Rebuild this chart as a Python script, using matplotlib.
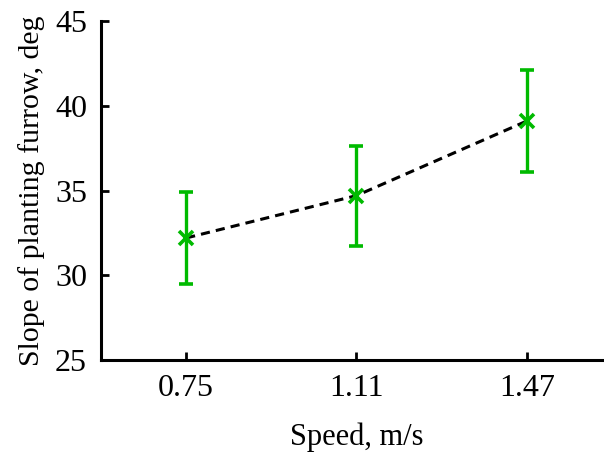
import matplotlib
matplotlib.use("Agg")
import matplotlib.pyplot as plt

OUTPUT_FILE = "out.png"

# Values.
speeds = ["0.75", "1.11", "1.47"]
slope_mean = [32.2, 34.7, 39.1]
slope_err = [2.7, 2.95, 3.0]

plt.rcParams["font.family"] = ["Liberation Serif", "DejaVu Serif"]

GREEN = "#00BA00"

fig = plt.figure(figsize=(6.04, 4.54), dpi=100)
# The x axis runs a little past the right edge of the figure, as in the source.
ax = fig.add_axes([0.1672, 0.207, 0.846, 0.7467])

x_positions = list(range(len(speeds)))

# Dashed trend line joining the means.
ax.plot(x_positions, slope_mean, color="black", linestyle=(0, (3, 2)),
        linewidth=2.2, zorder=2)

ax.errorbar(x_positions, slope_mean, yerr=slope_err, fmt="x", color=GREEN,
            ecolor=GREEN, elinewidth=2.4, capsize=5, capthick=2.4,
            markersize=10, markeredgewidth=2.6, zorder=3)

ax.set_xlim(-0.5, 2.5)
ax.set_ylim(25, 45)
ax.set_yticks(range(25, 46, 5))
ax.set_xticks(x_positions)
ax.set_xticklabels(speeds)

ax.set_xlabel("Speed, m/s", fontsize=22, labelpad=14)
ax.set_ylabel("Slope of planting furrow, deg", fontsize=21.5, labelpad=7)

ax.tick_params(axis="both", direction="in", length=6, width=2,
               labelsize=23, pad=10)

ax.spines["top"].set_visible(False)
ax.spines["right"].set_visible(False)
ax.spines["left"].set_linewidth(2.2)
ax.spines["bottom"].set_linewidth(2.2)

fig.savefig(OUTPUT_FILE, dpi=100)
